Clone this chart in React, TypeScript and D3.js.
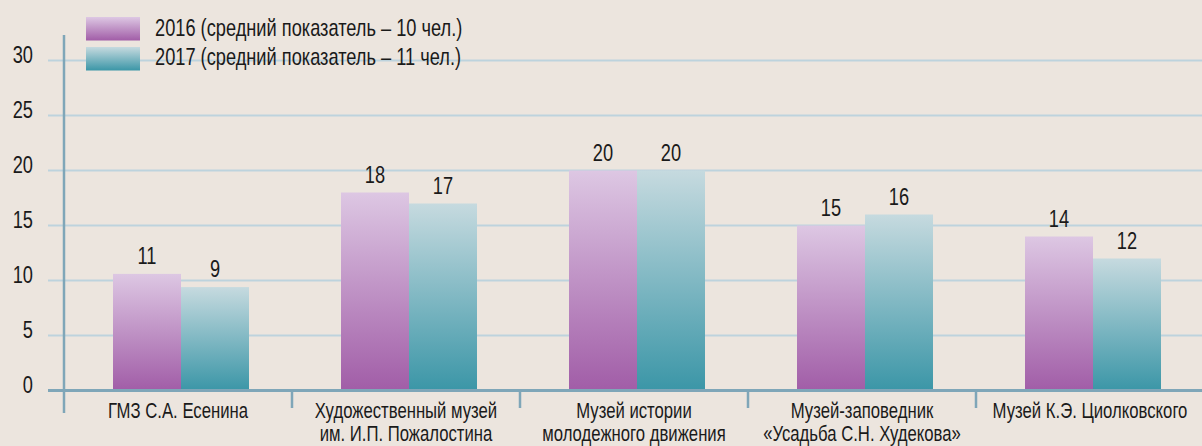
import React, { useRef, useEffect } from 'react'
import * as d3 from 'd3'

const categories = [
  ['ГМЗ С.А. Есенина'],
  ['Художественный музей', 'им. И.П. Пожалостина'],
  ['Музей истории', 'молодежного движения'],
  ['Музей-заповедник', '«Усадьба С.Н. Худекова»'],
  ['Музей К.Э. Циолковского'],
]
const values2016 = [10.6, 18, 20, 15, 14]
const values2017 = [9.4, 17, 20, 16, 12]
const seriesNames = ['2016 (средний показатель – 10 чел.)', '2017 (средний показатель – 11 чел.)']
const yTicks = [0, 5, 10, 15, 20, 25, 30]

// no condensed font installed, so squeeze Liberation Sans horizontally
const FONT = '"Liberation Sans", Arial, sans-serif'
const SQUEEZE = 0.76

export default function App() {
  const ref = useRef<SVGSVGElement>(null)

  useEffect(() => {
    document.body.style.margin = '0'
    document.body.style.overflow = 'hidden'

    const width = 1202
    const height = 446
    const svg = d3.select(ref.current)
    svg.selectAll('*').remove()

    svg.append('rect').attr('width', width).attr('height', height).attr('fill', '#ece5de')

    const defs = svg.append('defs')
    const grads = [
      { id: 'g2016', top: '#ddc7e3', bottom: '#a15da7' },
      { id: 'g2017', top: '#c6dadf', bottom: '#3b96a7' },
    ]
    grads.forEach(g => {
      const lg = defs.append('linearGradient').attr('id', g.id).attr('x1', 0).attr('y1', 0).attr('x2', 0).attr('y2', 1)
      lg.append('stop').attr('offset', '0%').attr('stop-color', g.top)
      lg.append('stop').attr('offset', '100%').attr('stop-color', g.bottom)
    })

    const x = d3.scaleBand<number>().domain(d3.range(categories.length)).range([64, 1204])
    const y = d3.scaleLinear().domain([0, 30]).range([390.5, 60.5])
    const barW = 68
    const shift = 3

    const place = (px: number, py: number) => `translate(${px},${py}) scale(${SQUEEZE},1)`

    // gridlines
    svg.append('g')
      .selectAll('line')
      .data(yTicks.filter(t => t > 0))
      .join('line')
      .attr('x1', 48).attr('x2', width)
      .attr('y1', d => y(d)).attr('y2', d => y(d))
      .attr('stroke', '#bdd3dd').attr('stroke-width', 2)

    // y tick labels
    svg.append('g')
      .selectAll('text')
      .data(yTicks)
      .join('text')
      .attr('transform', d => place(33, y(d) + 2.5))
      .attr('text-anchor', 'end')
      .style('font-family', FONT)
      .style('font-size', '24px')
      .attr('fill', '#1a1a1a')
      .text(d => d)

    const series = [
      { vals: values2016, fill: 'url(#g2016)', off: -barW },
      { vals: values2017, fill: 'url(#g2017)', off: 0 },
    ]

    series.forEach(s => {
      svg.append('g')
        .selectAll('rect')
        .data(s.vals)
        .join('rect')
        .attr('x', (d, i) => x(i)! + x.bandwidth() / 2 + shift + s.off)
        .attr('y', d => y(d))
        .attr('width', barW)
        .attr('height', d => y(0) - y(d))
        .attr('fill', s.fill)

      svg.append('g')
        .selectAll('text')
        .data(s.vals)
        .join('text')
        .attr('transform', (d, i) => place(x(i)! + x.bandwidth() / 2 + shift + s.off + barW / 2, y(d) - 10))
        .attr('text-anchor', 'middle')
        .style('font-family', FONT)
        .style('font-size', '24px')
        .attr('fill', '#1a1a1a')
        .text(d => Math.round(d))
    })

    // axes
    const axisColor = '#7fa6b8'
    svg.append('line')
      .attr('x1', 48).attr('x2', width)
      .attr('y1', y(0)).attr('y2', y(0))
      .attr('stroke', axisColor).attr('stroke-width', 3)
    svg.append('line')
      .attr('x1', 64).attr('x2', 64)
      .attr('y1', 35).attr('y2', 413)
      .attr('stroke', axisColor).attr('stroke-width', 2.5)
    svg.append('g')
      .selectAll('line')
      .data(d3.range(1, categories.length))
      .join('line')
      .attr('x1', d => x(d)!).attr('x2', d => x(d)!)
      .attr('y1', y(0)).attr('y2', 408)
      .attr('stroke', axisColor).attr('stroke-width', 2.5)

    // category labels
    const labels = svg.append('g')
      .selectAll('text')
      .data(categories)
      .join('text')
      .attr('transform', (d, i) => place(x(i)! + x.bandwidth() / 2, 418))
      .attr('text-anchor', 'middle')
      .style('font-family', FONT)
      .style('font-size', '22px')
      .attr('fill', '#1a1a1a')
    labels.selectAll('tspan')
      .data(d => d)
      .join('tspan')
      .attr('x', 0)
      .attr('dy', (d, i) => (i === 0 ? 0 : 23))
      .text(d => d)

    // legend
    const legend = svg.append('g')
    seriesNames.forEach((name, i) => {
      legend.append('rect')
        .attr('x', 86).attr('y', 17 + i * 30)
        .attr('width', 54).attr('height', 23.5)
        .attr('fill', i === 0 ? 'url(#g2016)' : 'url(#g2017)')
      legend.append('text')
        .attr('transform', place(155, 36 + i * 29))
        .style('font-family', FONT)
        .style('font-size', '24px')
        .attr('fill', '#1a1a1a')
        .text(name)
    })
  }, [])

  return (
    <svg ref={ref} width={1202} height={446} style={{ display: 'block' }} />
  )
}
